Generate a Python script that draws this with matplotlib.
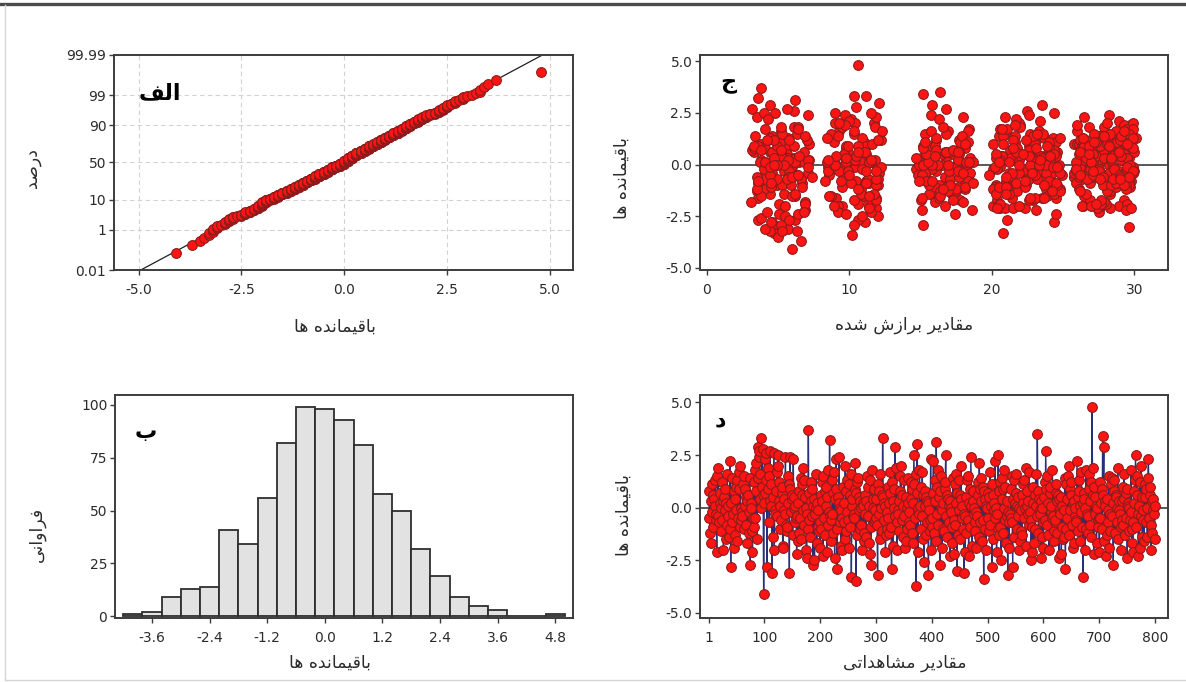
import numpy as np
import matplotlib
matplotlib.use("Agg")
import matplotlib.pyplot as plt
from matplotlib.lines import Line2D
from statistics import NormalDist

plt.rcParams["font.family"] = ["DejaVu Sans", "Noto Sans"]
plt.rcParams["axes.unicode_minus"] = False

# ---------------- data (residuals and fitted values in tenths, observation order) -------------
residuals_tenths = [
    -5, 8, -12, 3, -17, 11, -2, 6, -9, 4, 1, 13, -6, -3, -21, 15, -4, 19, -7, 2,
    7, -11, 0, 12, -6, 3, -20, 5, -1, 9, -15, 2, -8, 16, -4, 1, -14, -10, 22, -28,
    2, -7, 14, -3, -19, 8, -13, 4, 10, -1, -16, 13, -5, 9, 17, -9, 20, 0, -6, -2,
    -4, 11, -10, 15, 1, 9, -8, 5, -17, 3, 6, -2, -12, 14, -27, 2, 0, -11, -21, -5,
    12, -9, 18, -5, 21, 8, -15, 29, 14, 24, 27, 4, 16, 0, 33, 10, 28, 6, -41, 2,
    23, 7, 26, 13, -28, 19, 9, 15, -7, 27, 3, 1, 11, -31, 5, -14, 26, -20, -1, -3,
    8, 17, -4, 20, 25, 3, 12, -10, 1, -6, 7, 10, -18, -19, 4, -1, -3, 24, -8, -11,
    -9, 15, 2, 11, -31, 24, 9, -2, 4, 6, -13, 23, 0, 5, -7, 1, -5, -22, -4, -16,
    2, -12, 8, -5, 14, -15, 6, 11, -1, 19, 13, -8, 5, 0, -20, -24, -3, -10, 37, -6,
    7, -14, 3, 12, -4, 9, -27, 1, 4, -25, -3, 0, 16, -17, 2, -9, -1, -11, -7, -19,
    6, -10, 3, 12, -23, 15, -5, 8, -13, 1, 10, -21, 5, 18, -8, -2, 32, -4, -6, -16,
    -3, 13, 7, -12, 17, -24, 4, 9, 23, -29, -10, 5, 2, 24, -7, 0, -18, -1, -5, -20,
    10, -7, 2, -15, 20, 8, -11, 13, -2, -6, 11, -19, 6, -9, 16, -33, 1, 4, -4, -3,
    -5, 9, 21, -35, 7, -13, 12, 14, -1, 5, -10, 3, 0, -8, -20, 2, 1, -16, -12, -3,
    6, -14, 3, 15, -4, 10, -17, 1, 13, -22, -27, -9, 18, 4, 0, -7, 9, -1, -6, -5,
    4, -8, -32, 11, -3, 8, -15, 16, 0, 6, -11, 33, 5, -6, 2, 1, -21, -13, -2, -10,
    -5, 10, 2, -12, 7, 17, -9, -29, 12, 3, -18, 9, 0, 29, -4, 19, -7, -20, -1, -3,
    3, -11, 8, 15, 20, -6, 6, -14, 1, 13, -4, -19, 5, -16, -10, 0, 2, 14, -2, -7,
    -8, 12, 4, -12, 9, -17, 2, 25, 11, -5, 16, -37, 7, 30, -21, 0, -3, 18, 1, -10,
    10, -4, 17, -15, 6, -26, 8, 1, -13, 5, 3, -7, 2, -32, -1, -6, -11, 23, -20, -9,
    -5, 7, 22, -12, 13, 3, -16, 31, 10, -3, 18, -8, 5, 8, -27, 0, 15, -19, -1, -10,
    2, -11, 9, 12, 25, -4, 6, -14, 4, 1, -7, 3, -23, 0, -2, -17, -9, 14, -6, -22,
    11, -8, 2, 16, -30, 7, -13, 13, -1, 6, -15, 20, 4, -5, 1, -10, -3, -31, -4, -21,
    5, -12, 13, -6, 15, -23, 2, 9, -9, 24, 1, -18, 8, 3, -3, 0, -7, -11, -19, -2,
    -4, 12, 6, -14, 21, 9, -7, 14, 3, -16, 10, -6, -34, 8, 4, -10, -20, 1, 0, -5,
    7, -11, 5, 17, -8, 1, 11, -28, 6, -15, -1, 2, 22, -5, 0, -21, -3, -10, 25, -13,
    8, 12, -9, -25, 14, 4, -12, 9, 0, 18, -6, 10, -17, 3, -4, -32, -2, -19, -7, -3,
    -5, 9, 15, -7, -28, 4, 13, -14, 2, 16, 7, -10, 1, -4, 5, -20, 0, -16, -11, -1,
    6, -13, 2, 11, -5, 13, 0, 19, -18, 8, 1, -3, 3, 17, -8, -2, -6, -25, -9, -21,
    10, 2, -17, 6, -10, 16, 1, -4, 35, 8, -12, 4, -1, -3, 3, -24, 0, -14, -7, -19,
    5, 12, -6, 27, 9, -8, 15, 2, -13, -20, 7, 10, -2, 1, -5, 18, -4, -16, -11, -7,
    -6, 7, 11, 3, -12, 6, 4, -24, 0, -3, 5, -22, -9, 1, -15, -1, -14, 14, -29, -10,
    11, -5, 4, 15, 20, -13, 9, -1, 12, 6, -8, -19, 2, 3, -17, -4, 0, -6, -7, 22,
    5, -11, 13, 8, -16, 1, -2, 17, -9, 2, -33, 7, 4, -20, 0, 18, -10, -3, -12, -4,
    9, 16, -8, 3, 12, -14, 48, 6, 19, -22, 10, -3, 5, 1, -17, 0, -6, -9, -5, -21,
    -5, 12, 2, 9, -10, 34, 6, 29, -16, 3, 1, -23, 4, -13, -7, -1, 15, -19, -11, -3,
    11, -4, 14, 2, -27, 8, 13, -12, 6, 5, -7, 0, 19, -15, 3, -1, -3, -20, -9, -6,
    3, 10, -8, 16, 4, -13, 7, -5, 9, -24, 2, 1, -11, 0, -6, -2, 18, -17, -10, -21,
    -7, 8, 2, 13, 25, -9, 6, 15, -3, -23, 1, -19, 12, -4, 20, 5, -14, -1, -6, -16,
    5, 11, -7, 9, 0, -14, 14, 23, -5, 6, 10, -8, -20, 3, -12, -1, 4, -3, 1, -15,
]

fitted_tenths = [
    281, 230, 173, 97, 293, 52, 261, 108, 216, 287, 155, 243, 39, 270, 206, 278, 121, 297, 234, 264,
    272, 95, 43, 231, 58, 168, 289, 214, 102, 37, 265, 176, 298, 52, 241, 112, 283, 159, 101, 46,
    293, 48, 205, 161, 277, 98, 35, 236, 258, 172, 91, 301, 63, 226, 184, 269, 117, 47, 154, 244,
    212, 286, 41, 153, 70, 262, 105, 230, 178, 296, 33, 88, 248, 275, 36, 56, 99, 207, 119, 281,
    266, 170, 61, 224, 289, 38, 109, 235, 46, 157, 32, 271, 93, 233, 112, 260, 105, 44, 60, 292,
    35, 49, 225, 276, 111, 94, 58, 103, 285, 168, 62, 243, 110, 49, 112, 172, 61, 264, 60, 99,
    268, 206, 46, 90, 40, 150, 297, 224, 115, 167, 32, 261, 180, 51, 239, 104, 225, 97, 282, 176,
    290, 209, 118, 245, 57, 226, 156, 58, 234, 300, 211, 180, 40, 173, 263, 149, 286, 69, 219, 160,
    279, 238, 181, 96, 34, 87, 265, 216, 151, 293, 57, 112, 270, 165, 201, 51, 242, 49, 38, 258,
    267, 44, 228, 177, 299, 61, 106, 108, 274, 120, 240, 91, 287, 204, 38, 67, 262, 168, 40, 295,
    246, 53, 280, 161, 275, 227, 86, 291, 175, 47, 263, 209, 100, 64, 296, 147, 36, 270, 183, 36,
    259, 109, 213, 166, 41, 174, 288, 152, 209, 52, 203, 56, 294, 71, 225, 268, 31, 182, 249, 95,
    284, 171, 219, 62, 104, 50, 297, 237, 158, 266, 89, 205, 278, 114, 183, 47, 37, 290, 150, 228,
    261, 98, 234, 50, 176, 283, 122, 208, 299, 271, 163, 55, 247, 181, 92, 50, 274, 214, 40, 289,
    270, 156, 103, 63, 293, 72, 229, 115, 263, 186, 62, 244, 279, 207, 97, 171, 296, 59, 233, 148,
    265, 83, 44, 178, 300, 41, 110, 260, 162, 52, 287, 103, 96, 272, 155, 65, 223, 281, 201, 120,
    275, 230, 47, 167, 289, 211, 101, 152, 262, 185, 69, 112, 243, 158, 153, 220, 57, 277, 174, 93,
    267, 160, 284, 87, 219, 35, 242, 54, 114, 291, 71, 206, 165, 235, 278, 48, 102, 179, 259, 226,
    286, 43, 245, 181, 106, 269, 214, 244, 297, 151, 233, 66, 272, 121, 204, 282, 170, 118, 261, 240,
    273, 239, 295, 60, 177, 38, 264, 98, 218, 288, 155, 66, 231, 63, 85, 270, 202, 119, 167, 111,
    280, 226, 163, 108, 292, 62, 245, 62, 37, 99, 268, 210, 177, 33, 211, 149, 236, 113, 263, 59,
    291, 212, 160, 70, 115, 233, 46, 108, 279, 187, 120, 57, 92, 296, 40, 173, 217, 92, 258, 151,
    274, 94, 228, 169, 296, 289, 204, 44, 262, 111, 239, 299, 52, 182, 271, 156, 85, 41, 242, 283,
    266, 201, 290, 177, 53, 115, 104, 36, 259, 282, 68, 160, 277, 213, 295, 89, 236, 45, 115, 269,
    282, 58, 170, 244, 100, 49, 292, 216, 147, 230, 264, 74, 102, 299, 207, 119, 275, 41, 158, 287,
    270, 223, 293, 64, 154, 241, 183, 244, 278, 38, 206, 261, 217, 297, 169, 215, 54, 284, 48, 248,
    263, 47, 288, 55, 229, 273, 106, 33, 219, 95, 267, 181, 150, 295, 238, 53, 204, 280, 113, 259,
    100, 276, 168, 49, 45, 291, 84, 212, 265, 157, 244, 296, 41, 185, 271, 55, 227, 119, 67, 285,
    262, 205, 176, 288, 44, 248, 152, 97, 279, 218, 269, 58, 235, 299, 183, 109, 261, 109, 36, 274,
    281, 72, 226, 167, 294, 123, 259, 214, 164, 240, 175, 285, 202, 112, 268, 64, 297, 62, 232, 277,
    244, 290, 57, 56, 99, 223, 272, 206, 164, 263, 38, 116, 286, 182, 230, 52, 299, 151, 211, 267,
    278, 161, 240, 62, 294, 217, 105, 245, 48, 178, 261, 231, 287, 155, 86, 122, 203, 69, 103, 246,
    273, 198, 226, 296, 93, 169, 265, 44, 215, 289, 149, 106, 71, 279, 119, 258, 238, 210, 56, 43,
    267, 181, 299, 231, 163, 62, 275, 207, 112, 284, 208, 52, 241, 270, 90, 220, 293, 176, 261, 228,
    282, 103, 240, 203, 42, 266, 106, 168, 216, 294, 208, 259, 154, 84, 277, 233, 60, 187, 271, 114,
    289, 224, 57, 268, 171, 152, 106, 44, 237, 47, 212, 42, 160, 262, 119, 243, 283, 69, 205, 275,
    272, 180, 291, 234, 58, 152, 264, 35, 68, 222, 285, 54, 260, 164, 98, 295, 119, 89, 245, 278,
    266, 201, 158, 293, 91, 242, 173, 64, 282, 98, 115, 270, 210, 49, 290, 259, 166, 103, 237, 298,
    276, 215, 85, 161, 90, 45, 262, 232, 299, 68, 184, 273, 120, 248, 281, 203, 117, 71, 296, 227,
    268, 153, 290, 239, 47, 210, 279, 265, 262, 176, 295, 36, 219, 284, 166, 246, 65, 271, 205, 114,
]

# histogram (panel b): bin centres and counts
hist_centers = [-4.0, -3.6, -3.2, -2.8, -2.4, -2.0, -1.6, -1.2, -0.8, -0.4, 0.0, 0.4,
                0.8, 1.2, 1.6, 2.0, 2.4, 2.8, 3.2, 3.6, 4.0, 4.4, 4.8]
hist_counts = [1, 2, 9, 13, 14, 41, 34, 56, 82, 99, 98, 93, 81, 58, 50, 32, 19, 9, 5, 3, 0, 0, 1]

prob_ticks = [0.01, 1, 10, 50, 90, 99, 99.99]
prob_tick_labels = ["0.01", "1", "10", "50", "90", "99", "99.99"]
resid_x_ticks = [-5.0, -2.5, 0.0, 2.5, 5.0]
resid_y_ticks = [-5.0, -2.5, 0.0, 2.5, 5.0]
fitted_ticks = [0, 10, 20, 30]
hist_x_ticks = [-3.6, -2.4, -1.2, 0.0, 1.2, 2.4, 3.6, 4.8]
hist_y_ticks = [0, 25, 50, 75, 100]
order_ticks = [1, 100, 200, 300, 400, 500, 600, 700, 800]

# Persian texts (pre-shaped presentation forms, visual order)
lbl_residuals = "\uFE8E\uFEEB \uFEE9\uFEAA\uFEE7\uFE8E\uFEE4\uFEF4\uFED7\uFE8E\uFE91"   # باقیمانده ها
lbl_percent = "\uFEAA\uFEBB\uFEAD\uFEA9"                                               # درصد
lbl_fitted = ("\uFEE9\uFEAA\uFEB7 \uFEB5\uFEAF\uFE8D\uFEAE\uFE91 "
              "\uFEAE\uFEF3\uFEA9\uFE8E\uFED8\uFEE3")                                  # مقادیر برازش شده
lbl_freq = "\uFEF0\uFEE7\uFE8D\uFEED\uFE8D\uFEAE\uFED3"                                # فراوانی
lbl_observed = ("\uFEF0\uFE97\uFE8D\uFEAA\uFEEB\uFE8E\uFEB8\uFEE3 "
                "\uFEAE\uFEF3\uFEA9\uFE8E\uFED8\uFEE3")                                # مقادیر مشاهداتی
tag_a = "\uFED2\uFEDF\uFE8D"   # الف
tag_b = "\u0628"               # ب
tag_c = "\u062C"               # ج
tag_d = "\u062F"               # د

# ---------------------------------------------------------------------------------------------
residuals = np.array(residuals_tenths, dtype=float) / 10.0
fitted = np.array(fitted_tenths, dtype=float) / 10.0
order = np.arange(1, len(residuals) + 1)

RED = "#ff1414"
EDGE = "#8c1c1c"
SPINE = "#3c3c3c"

W, H = 1186, 682
fig = plt.figure(figsize=(W / 100, H / 100), dpi=100)
fig.patch.set_facecolor("white")


def px_axes(l, t, r, b):
    return fig.add_axes([l / W, 1 - b / H, (r - l) / W, (b - t) / H])


def style(ax):
    for s in ax.spines.values():
        s.set_color(SPINE)
        s.set_linewidth(1.4)
    ax.tick_params(axis="both", colors=SPINE, labelcolor="#2b2b2b", labelsize=10,
                   length=3.5, width=1.0)
    ax.tick_params(axis="x", pad=6)
    ax.tick_params(axis="y", pad=2)


ax_a = px_axes(114, 55, 573, 270)
ax_c = px_axes(700, 55, 1168, 270)
ax_b = px_axes(115, 395, 573, 618)
ax_d = px_axes(700, 395, 1168, 618)

# ---------------- panel a: normal probability plot ----------------
nd = NormalDist()


def _fwd(p):
    p = np.clip(np.asarray(p, dtype=float), 1e-7, 100 - 1e-7)
    return np.vectorize(nd.inv_cdf, otypes=[float])(p / 100.0)


def _inv(z):
    z = np.asarray(z, dtype=float)
    return np.vectorize(nd.cdf, otypes=[float])(z) * 100.0


srt = np.sort(residuals)
n = len(srt)
pct = (np.arange(1, n + 1) - 0.3) / (n + 0.4) * 100.0
mu, sd = residuals.mean(), residuals.std(ddof=1)
xl = np.array([-6.5, 6.5])
pl = np.array([nd.cdf((v - mu) / sd) for v in xl]) * 100.0

ax_a.set_yscale("function", functions=(_fwd, _inv))
ax_a.set_xlim(-5.6, 5.57)
ax_a.set_ylim(0.01, 99.99)
ax_a.set_yticks(prob_ticks)
ax_a.set_yticklabels(prob_tick_labels)
ax_a.set_xticks(resid_x_ticks)
ax_a.set_xticklabels([f"{v:.1f}" for v in resid_x_ticks])
ax_a.grid(True, linestyle=(0, (4, 3)), color="#d2d2d2", linewidth=0.8, zorder=0)
ax_a.plot(xl, pl, color="#202020", linewidth=0.9, zorder=2)
ax_a.plot(srt, pct, "o", ms=7.0, mfc=RED, mec=EDGE, mew=0.8, zorder=3)
style(ax_a)
ax_a.text(0.10, 0.82, tag_a, transform=ax_a.transAxes, fontsize=16, fontweight="bold",
          ha="center", va="center", zorder=5)

# ---------------- panel c: residuals vs fitted ----------------
ax_c.axhline(0, color=SPINE, linewidth=1.2, zorder=1)
ax_c.plot(fitted, residuals, "o", ms=7.0, mfc=RED, mec=EDGE, mew=0.8, zorder=3)
ax_c.set_xlim(-0.48, 32.37)
ax_c.set_ylim(-5.1, 5.3)
ax_c.set_xticks(fitted_ticks)
ax_c.set_yticks(resid_y_ticks)
ax_c.set_yticklabels([f"{v:.1f}" for v in resid_y_ticks])
style(ax_c)
ax_c.text(0.06, 0.87, tag_c, transform=ax_c.transAxes, fontsize=16, fontweight="bold",
          ha="center", va="center", zorder=5)

# ---------------- panel b: histogram ----------------
ax_b.bar(hist_centers, hist_counts, width=0.4, color="#e2e2e2", edgecolor="#2e2e2e",
         linewidth=1.3, zorder=2)
ax_b.set_xlim(-4.37, 5.17)
ax_b.set_ylim(-0.8, 104.7)
ax_b.set_xticks(hist_x_ticks)
ax_b.set_xticklabels([f"{v:.1f}" for v in hist_x_ticks])
ax_b.set_yticks(hist_y_ticks)
style(ax_b)
ax_b.text(0.068, 0.834, tag_b, transform=ax_b.transAxes, fontsize=16, fontweight="bold",
          ha="center", va="center", zorder=5)

# ---------------- panel d: residuals vs order ----------------
ax_d.axhline(0, color=SPINE, linewidth=1.2, zorder=1)
ax_d.plot(order, residuals, "-", color="#26307a", linewidth=1.0, zorder=2)
ax_d.plot(order, residuals, "o", ms=7.0, mfc=RED, mec=EDGE, mew=0.8, zorder=3)
ax_d.set_xlim(-15, 823)
ax_d.set_ylim(-5.24, 5.35)
ax_d.set_xticks(order_ticks)
ax_d.set_yticks(resid_y_ticks)
ax_d.set_yticklabels([f"{v:.1f}" for v in resid_y_ticks])
style(ax_d)
ax_d.text(0.043, 0.888, tag_d, transform=ax_d.transAxes, fontsize=16, fontweight="bold",
          ha="center", va="center", zorder=5)

# ---------------- axis titles ----------------
def ftext(x, y, s, rot=0):
    fig.text(x / W, 1 - y / H, s, rotation=rot, ha="center", va="center",
             fontsize=12.5, color="#2b2b2b")


ftext(335, 327, lbl_residuals)
ftext(32, 168, lbl_percent, 90)
ftext(904, 325, lbl_fitted)
ftext(622, 178, lbl_residuals, 90)
ftext(330, 663, lbl_residuals)
ftext(37, 534, lbl_freq, 90)
ftext(905, 663, lbl_observed)
ftext(624, 515, lbl_residuals, 90)

# ---------------- outer frame ----------------
fig.add_artist(Line2D([0, 1], [1 - 4 / H, 1 - 4 / H], transform=fig.transFigure,
                      color="#4a4a4a", linewidth=2.4))
fig.add_artist(Line2D([5 / W, 5 / W], [1 - 680 / H, 1 - 5 / H], transform=fig.transFigure,
                      color="#d6d6d6", linewidth=1.0))
fig.add_artist(Line2D([5 / W, 1], [1 - 680 / H, 1 - 680 / H], transform=fig.transFigure,
                      color="#d6d6d6", linewidth=1.0))

fig.savefig("out.png", dpi=100)
